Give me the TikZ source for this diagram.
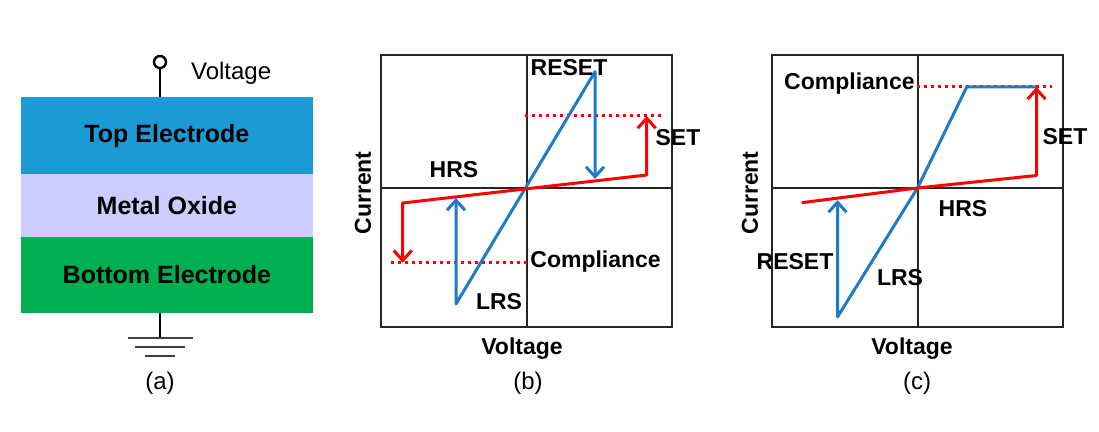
\documentclass[tikz,border=0pt]{standalone}
\usepackage{fontspec}
\setmainfont{Liberation Sans}
\usetikzlibrary{arrows.meta,positioning}

\definecolor{topel}{RGB}{27,154,214}
\definecolor{oxide}{RGB}{204,204,255}
\definecolor{botel}{RGB}{0,176,80}
\definecolor{lrsblue}{RGB}{31,122,200}
\definecolor{hrsred}{RGB}{255,0,0}

\tikzset{
  layer/.style={minimum width=146.2pt, inner sep=0pt, outer sep=0pt,
    font=\bfseries\fontsize{12.5}{14}\selectfont},
  lbl/.style={font=\bfseries\fontsize{11.5}{13}\selectfont, inner sep=1pt},
  subcap/.style={font=\fontsize{12}{14}\selectfont},
  frame/.style={line width=0.9pt, black!85},
  lrs/.style={lrsblue, line width=1.5pt, line join=round},
  hrs/.style={hrsred, line width=1.5pt, line join=round},
  barb/.tip={Straight Barb[length=5pt,width=9pt,line width=1.5pt]},
  comp/.style={hrsred, line width=1.5pt, dash pattern=on 1.5pt off 2pt}
}

\begin{document}
\begin{tikzpicture}[x=0.5pt, y=-0.5pt]
\useasboundingbox (0,0) rectangle (1099,432);

% (a) the cell
\node[layer, fill=topel, minimum height=38.35pt] (top) at (166.9,135.65) {Top Electrode};
\node[layer, fill=oxide, minimum height=31.35pt, below=0pt of top] (ox) {Metal Oxide};
\node[layer, fill=botel, minimum height=38.3pt, below=0pt of ox] (bot) {Bottom Electrode};

\node[circle, draw, line width=1.2pt, minimum size=6pt, inner sep=0pt] (term) at (160,62) {};
\draw[line width=1.2pt] (term) -- (top.north -| term);
\node[font=\fontsize{12}{14}\selectfont, anchor=west] (volt) at (184,73) {Voltage};

\coordinate (gnd) at (160,338);
\draw[line width=1.2pt] (bot.south -| gnd) -- (gnd);
\draw[line width=1.3pt, black!75] (128,338) -- (193,338);
\draw[line width=1.3pt, black!75] (135,347) -- (185,347);
\draw[line width=1.3pt, black!75] (145,356) -- (175,356);
\node[subcap] (capa) at (160,383) {(a)};

% (b) bipolar switching
\draw[frame] (380.7,55) rectangle (671.7,327);
\draw[frame] (527.3,55) -- (527.3,327);
\draw[frame] (380.7,187.7) -- (671.7,187.7);

\coordinate (b-lo) at (456,304);
\coordinate (b-hi) at (595,71.7);
\coordinate (b-reset) at (595,179);
\coordinate (b-up) at (456,198);
\coordinate (b-hl) at (402.7,203);
\coordinate (b-hr) at (646.7,175);
\coordinate (b-set) at (646.7,116);
\coordinate (b-dn) at (402.7,262.7);

\draw[comp] (525,116) -- (662,116);
\draw[comp] (390.7,262.7) -- (527,262.7);
\draw[lrs, barb-barb] (b-up) -- (b-lo) -- (b-hi) -- (b-reset);
\draw[hrs, barb-barb] (b-dn) -- (b-hl) -- (b-hr) -- (b-set);

\node[lbl] (b-lreset) at (569,68) {RESET};
\node[lbl] (b-lset) at (678,138) {SET};
\node[lbl] (b-lhrs) at (454,170) {HRS};
\node[lbl] (b-llrs) at (499,302) {LRS};
\node[lbl, anchor=west] (b-lcomp) at (528,262) {Compliance};
\node[lbl, rotate=90] (b-cur) at (363,193) {Current};
\node[lbl] (b-volt) at (522,349) {Voltage};
\node[subcap] (capb) at (528,383) {(b)};

% (c) unipolar switching
\draw[frame] (771.7,55) rectangle (1063.3,327);
\draw[frame] (918.3,55) -- (918.3,327);
\draw[frame] (771.7,187.7) -- (1063.3,187.7);

\coordinate (c-o) at (917.5,188);
\coordinate (c-lo) at (837.5,317);
\coordinate (c-up) at (837.5,200);
\coordinate (c-knee) at (966.7,87);
\coordinate (c-flat) at (1036,87);
\coordinate (c-hl) at (801.7,202.7);
\coordinate (c-hr) at (1036.5,175.5);
\coordinate (c-set) at (1036.5,87);

\draw[comp] (916.7,87) -- (1052,87);
\draw[lrs, barb-] (c-up) -- (c-lo) -- (c-o) -- (c-knee) -- (c-flat);
\draw[hrs, -barb] (c-hl) -- (c-o) -- (c-hr) -- (c-set);

\node[lbl, anchor=east] (c-lcomp) at (917,84) {Compliance};
\node[lbl] (c-lset) at (1065,137) {SET};
\node[lbl] (c-lhrs) at (963,209) {HRS};
\node[lbl] (c-lreset) at (795,262) {RESET};
\node[lbl] (c-llrs) at (900,278) {LRS};
\node[lbl, rotate=90] (c-cur) at (750,193) {Current};
\node[lbl] (c-volt) at (912,349) {Voltage};
\node[subcap] (capc) at (917,383) {(c)};
\end{tikzpicture}
\end{document}
